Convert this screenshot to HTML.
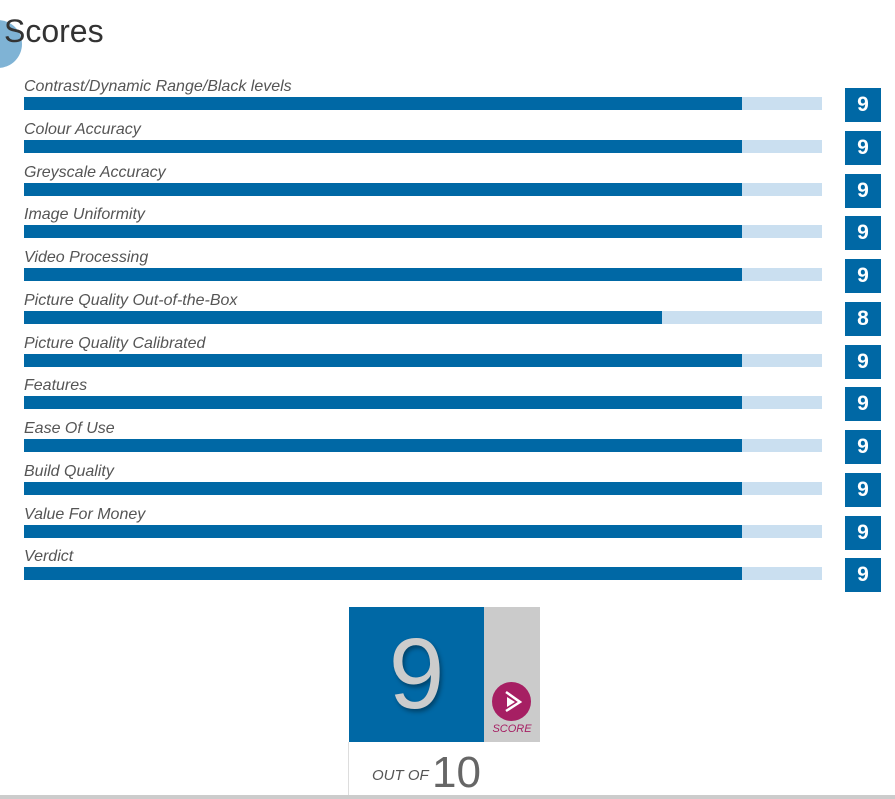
<!DOCTYPE html>
<html><head><meta charset="utf-8"><style>
body{margin:0;width:895px;height:799px;background:#fff;position:relative;overflow:hidden;font-family:"Liberation Sans",sans-serif}
.abs{position:absolute}
.lbl{position:absolute;left:24px;font-style:italic;font-size:16px;color:#555;white-space:nowrap}
.track{position:absolute;left:24px;width:798px;height:13px;background:#cadff0}
.fill{position:absolute;left:0;top:0;height:13px;background:#0068a5}
.box{position:absolute;left:845px;width:36px;height:34px;background:#0068a5;color:#fff;font-weight:bold;font-size:21px;text-align:center;line-height:34px}
</style></head><body>
<div class="abs" style="left:-26px;top:20px;width:48px;height:48px;border-radius:50%;background:#7fb3d5"></div>
<div class="abs" style="left:4px;top:13px;font-size:32px;color:#333">Scores</div>
<div id="rows"></div>
<div class="abs" style="left:349px;top:607px;width:135px;height:135px;background:#0068a5;color:#ccc;font-size:100px;text-align:center;line-height:135px;text-shadow:2px 3px 4px rgba(0,0,0,.35)">9</div>
<div class="abs" style="left:484px;top:607px;width:56px;height:135px;background:#cbcbcb">
 <div class="abs" style="left:8px;top:75px;width:39px;height:39px;border-radius:50%;background:#a61f63">
  <svg width="39" height="39" viewBox="0 0 39 39"><path d="M14 10 L28 20 L14 29" fill="none" stroke="#fff" stroke-width="2.5"/><path d="M15 15 L23 20 L15 25 Z" fill="#fff"/></svg>
 </div>
 <div class="abs" style="left:0;width:56px;top:116px;text-align:center;font-size:11px;font-style:italic;color:#a61f63">SCORE</div>
</div>
<div class="abs" style="left:348px;top:742px;width:1px;height:53px;background:#ddd"></div>
<div class="abs" style="left:372px;top:767px;font-size:15px;font-style:italic;color:#555">OUT OF</div>
<div class="abs" style="left:432px;top:748px;font-size:44px;color:#666">10</div>
<div class="abs" style="left:0;top:795px;width:895px;height:4px;background:#ccc"></div>
<script>
const categories=["Contrast/Dynamic Range/Black levels","Colour Accuracy","Greyscale Accuracy","Image Uniformity","Video Processing","Picture Quality Out-of-the-Box","Picture Quality Calibrated","Features","Ease Of Use","Build Quality","Value For Money","Verdict"];
const scores=[9,9,9,9,9,8,9,9,9,9,9,9];
const maxScore=10;
const rows=document.getElementById('rows');
function rowY(i){return 97+i*42.75;}
function barW(v){return 798*v/maxScore;}
categories.forEach((c,i)=>{
 const y=rowY(i);
 const l=document.createElement('div');l.className='lbl';l.style.top=(y-19)+'px';l.textContent=c;
 
 
 rows.appendChild(l);
 const t=document.createElement('div');t.className='track';t.style.top=y+'px';
 
 
 const f=document.createElement('div');f.className='fill';f.style.width=barW(scores[i])+'px';
 
 
 t.appendChild(f);rows.appendChild(t);
 const b=document.createElement('div');b.className='box';b.style.top=(y-9)+'px';b.textContent=scores[i];
 
 
 rows.appendChild(b);
});
</script>
</body></html>
